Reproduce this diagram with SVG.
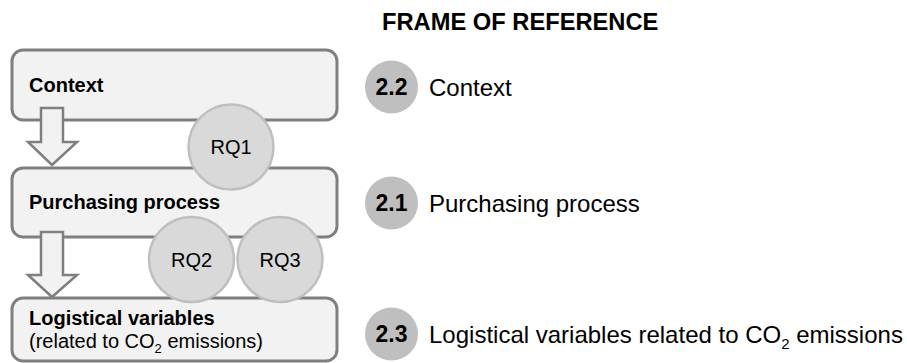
<svg xmlns="http://www.w3.org/2000/svg" width="907" height="363" viewBox="0 0 907 363">
  <style>
    .box { fill: #f2f2f2; stroke: #7f7f7f; stroke-width: 3; }
    .arrow { fill: #f2f2f2; stroke: #7f7f7f; stroke-width: 2.5; stroke-linejoin: miter; }
    .rq { fill: #d9d9d9; stroke: #bfbfbf; stroke-width: 2.5; }
    .sec { fill: #bfbfbf; }
    text { font-family: "Liberation Sans", Arial, sans-serif; fill: #000; }
    .lbl { font-size: 20px; font-weight: bold; }
    .sub { font-size: 20px; }
    .rqt { font-size: 20px; text-anchor: middle; }
    .num { font-size: 23px; font-weight: bold; text-anchor: middle; }
    .item { font-size: 24px; }
    .title { font-size: 23.7px; font-weight: bold; }
  </style>

  <!-- left column: the three stacked boxes -->
  <g id="box-context">
    <rect class="box" x="12" y="50" width="325" height="70" rx="11"/>
    <text class="lbl" x="29" y="92">Context</text>
  </g>
  <g id="box-purchasing">
    <rect class="box" x="12" y="168" width="325" height="69" rx="11"/>
    <text class="lbl" x="29" y="209">Purchasing process</text>
  </g>
  <g id="box-logistical">
    <rect class="box" x="12" y="298" width="325" height="63" rx="11"/>
    <text class="lbl" x="29" y="325">Logistical variables</text>
    <text class="sub" x="29" y="348">(related to CO<tspan font-size="13" dy="5">2</tspan><tspan dy="-5"> emissions)</tspan></text>
  </g>

  <!-- block arrows between the boxes -->
  <g id="connectors">
    <polygon class="arrow" points="41,108 63,108 63,142 77,142 52,165 28,142 41,142"/>
    <polygon class="arrow" points="41,232 63,232 63,275 77,275 52,297 28,275 41,275"/>
  </g>

  <!-- research questions -->
  <g id="rq1">
    <circle class="rq" cx="231" cy="147" r="42.5"/>
    <text class="rqt" x="231" y="154">RQ1</text>
  </g>
  <g id="rq2">
    <circle class="rq" cx="191.5" cy="259.5" r="42.5"/>
    <text class="rqt" x="191.5" y="266.5">RQ2</text>
  </g>
  <g id="rq3">
    <circle class="rq" cx="280" cy="259.5" r="42.5"/>
    <text class="rqt" x="280" y="266.5">RQ3</text>
  </g>

  <!-- right column: frame of reference -->
  <text class="title" x="382" y="30">FRAME OF REFERENCE</text>
  <g id="sec-2-2">
    <circle class="sec" cx="391.5" cy="87" r="26.5"/>
    <text class="num" x="391.5" y="95">2.2</text>
    <text class="item" x="429" y="95.5">Context</text>
  </g>
  <g id="sec-2-1">
    <circle class="sec" cx="391.5" cy="203" r="26.5"/>
    <text class="num" x="391.5" y="211">2.1</text>
    <text class="item" x="429" y="211.5">Purchasing process</text>
  </g>
  <g id="sec-2-3">
    <circle class="sec" cx="391.5" cy="334" r="26.5"/>
    <text class="num" x="391.5" y="342">2.3</text>
    <text class="item" x="429" y="342.5">Logistical variables related to CO<tspan font-size="15" dy="6">2</tspan><tspan dy="-6"> emissions</tspan></text>
  </g>
</svg>
